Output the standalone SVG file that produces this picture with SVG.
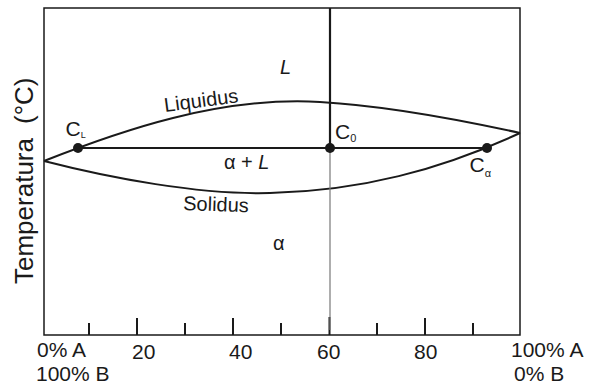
<svg xmlns="http://www.w3.org/2000/svg" width="590" height="385" viewBox="0 0 590 385">
<style>
text{font-family:"Liberation Sans",Arial,sans-serif;fill:#1a1a1a}
.ax{font-size:21px}
.lb{font-size:20px}
.cl{font-size:21px}
.sub{font-size:11px}
.ln{fill:none;stroke:#1a1a1a;stroke-width:2}
.tk{stroke:#1a1a1a;stroke-width:2}
.dot{fill:#1a1a1a}
</style>
<rect width="590" height="385" fill="#fff"/>
<g id="frame">
<path d="M44,8 H520 V335 H44 Z" fill="none" stroke="#1a1a1a" stroke-width="1.5"/>
</g>
<g id="ticks">
<path class="tk" d="M89,335V323 M137,335V318 M185,335V323 M233,335V318 M281,335V323 M329.5,335V317 M377,335V323 M425,335V318 M473,335V323"/>
</g>
<g id="connectors">
<path id="liquidus" class="ln" d="M44,161 C120,131 220,96 320,102 C390,106 470,122 520,133"/>
<path id="solidus" class="ln" d="M44,161 C110,178 200,195 270,193 C360,191 440,170 520,133"/>
<path id="tieline" class="ln" d="M78,148 H487"/>
<path id="composition-upper" stroke="#1a1a1a" stroke-width="2.2" d="M330,8 V148"/>
<path id="composition-lower" stroke="#777" stroke-width="1.2" d="M330,148 V330"/>
</g>
<g id="node-CL">
<circle class="dot" cx="78" cy="148" r="5"/>
<text class="cl" x="65.5" y="136">C<tspan font-size="9" dy="1.5">L</tspan></text>
</g>
<g id="node-C0">
<circle class="dot" cx="330" cy="148" r="5"/>
<text class="cl" x="335" y="139">C<tspan class="sub" dy="2.7">0</tspan></text>
</g>
<g id="node-Calpha">
<circle class="dot" cx="487" cy="148" r="5"/>
<text class="cl" x="469.5" y="171.5">C<tspan class="sub" dy="5">α</tspan></text>
</g>
<g id="labels">
<text class="lb" x="280" y="74" font-style="italic">L</text>
<text class="lb" transform="translate(165,112) rotate(-7.5)">Liquidus</text>
<text class="lb" transform="translate(183,210) rotate(2)">Solidus</text>
<text class="lb" x="224" y="169">α + <tspan font-style="italic">L</tspan></text>
<text class="lb" x="273" y="250">α</text>
<text font-size="26" transform="translate(33,284) rotate(-90)">Temperatura<tspan dx="14">(°C)</tspan></text>
</g>
<g id="axis-labels">
<text class="ax" x="37" y="356.5">0% A</text>
<text class="ax" x="36" y="380.5">100% B</text>
<text class="ax" x="132" y="359">20</text>
<text class="ax" x="229" y="359">40</text>
<text class="ax" x="317" y="359">60</text>
<text class="ax" x="414" y="359">80</text>
<text class="ax" x="511" y="356.5">100% A</text>
<text class="ax" x="514" y="380.5">0% B</text>
</g>
</svg>
